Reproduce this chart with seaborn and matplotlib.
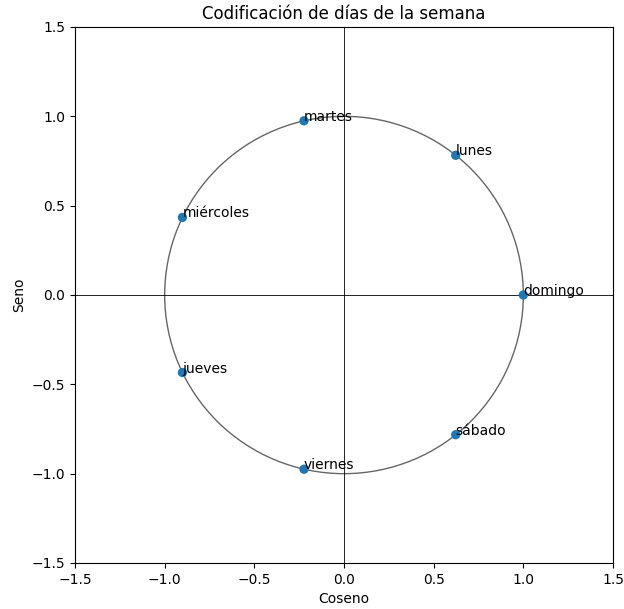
import numpy as np
import pandas as pd
import matplotlib
matplotlib.use("Agg")
import matplotlib.pyplot as plt
import seaborn as sns

# Days of the week placed on the unit circle (cyclic encoding)
dias = ["domingo", "lunes", "martes", "miércoles", "jueves", "viernes", "sábado"]
coseno = [1.000, 0.623, -0.223, -0.901, -0.901, -0.223, 0.623]
seno = [0.000, 0.782, 0.975, 0.434, -0.434, -0.975, -0.782]

df = pd.DataFrame({"dia": dias, "Coseno": coseno, "Seno": seno})

fig = plt.figure(figsize=(6.24, 6.09), dpi=100)
ax = fig.add_axes([75 / 624, 1 - 563 / 609, 538 / 624, 536 / 609])

# reference unit circle and axes through the origin
ax.add_patch(plt.Circle((0, 0), 1, fill=False, color="#666666", linewidth=1))
ax.axhline(0, color="black", linewidth=0.6)
ax.axvline(0, color="black", linewidth=0.6)

sns.scatterplot(data=df, x="Coseno", y="Seno", ax=ax, s=45,
                color="#1f77b4", edgecolor="none", zorder=3)

for _, fila in df.iterrows():
    ax.text(fila["Coseno"], fila["Seno"], fila["dia"], fontsize=10)

ax.set_xlim(-1.5, 1.5)
ax.set_ylim(-1.5, 1.5)
ax.set_xticks([-1.5, -1.0, -0.5, 0.0, 0.5, 1.0, 1.5])
ax.set_yticks([-1.5, -1.0, -0.5, 0.0, 0.5, 1.0, 1.5])
ax.set_xlabel("Coseno")
ax.set_ylabel("Seno")
ax.set_title("Codificación de días de la semana")

fig.savefig("out.png", dpi=100)
